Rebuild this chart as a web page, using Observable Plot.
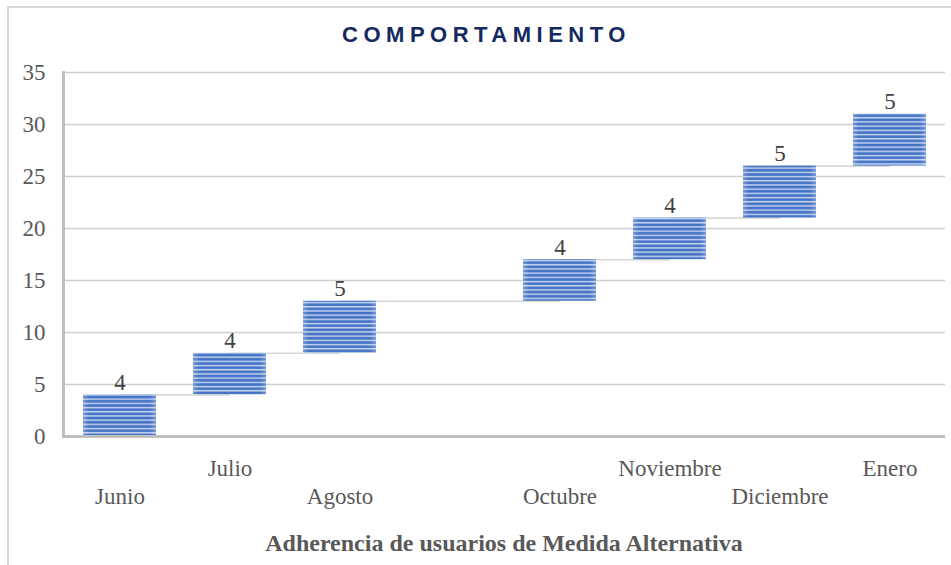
<!DOCTYPE html>
<html>
<head>
<meta charset="utf-8">
<script src="https://cdn.jsdelivr.net/npm/d3@7"></script>
<script src="https://cdn.jsdelivr.net/npm/@observablehq/plot@0.6"></script>
<style>
  body { margin: 0; background: #fff; overflow: hidden; }
  #outer { position: absolute; left: 7px; top: 6px; width: 1000px; height: 620px; border: 2px solid #d9d9d9; box-sizing: border-box; }
  #wrap { position: relative; width: 951px; }
  #title { box-sizing: border-box; width: 951px; height: 60px; padding-top: 23px; padding-left: 22px;
    font: bold 22px "Liberation Sans", Arial, sans-serif; letter-spacing: 5.5px; line-height: 24px;
    color: #14295f; text-align: center; }
  #chart svg { display: block; }
  #caption { box-sizing: border-box; width: 951px; height: 46px; padding-left: 57px;
    font: bold 24px "Liberation Serif", "Times New Roman", serif; line-height: 46px; color: #595959; text-align: center; }
</style>
</head>
<body>
<svg width="0" height="0" style="position:absolute">
  <defs>
    <linearGradient id="edge" x1="0" x2="1" y1="0" y2="0">
      <stop offset="0" stop-color="#ffffff" stop-opacity="0.25"></stop>
      <stop offset="0.08" stop-color="#ffffff" stop-opacity="0"></stop>
      <stop offset="0.92" stop-color="#ffffff" stop-opacity="0"></stop>
      <stop offset="1" stop-color="#ffffff" stop-opacity="0.25"></stop>
    </linearGradient>
    <pattern id="stripes" patternUnits="userSpaceOnUse" width="8" height="4.2">
      <rect x="0" y="0" width="8" height="4.2" fill="#4472c4"></rect>
      <rect x="0" y="2.4" width="8" height="1.5" fill="#c3d3f0"></rect>
    </pattern>
  </defs>
</svg>
<div id="outer"></div>
<div id="wrap">
  <div id="title">COMPORTAMIENTO</div>
  <div id="chart"></div>
  <div id="caption">Adherencia de usuarios de Medida Alternativa</div>
</div>
<script>
// Data
const months = ["Junio", "Julio", "Agosto", "Septiembre", "Octubre", "Noviembre", "Diciembre", "Enero"];
const monthLabels = ["Junio", "Julio", "Agosto", "", "Octubre", "Noviembre", "Diciembre", "Enero"];
const increments = [4, 4, 5, 0, 4, 4, 5, 5];
const yTicks = [0, 5, 10, 15, 20, 25, 30, 35];

// Build waterfall table
let acc = 0;
const rows = months.map((m, i) => {
  const start = acc;
  acc += increments[i];
  return { month: m, label: monthLabels[i], value: increments[i], start, end: acc, i };
});
const links = rows.slice(0, -1).map((r, i) => ({ from: r.month, to: rows[i + 1].month, level: r.end }));
const shown = rows.filter(d => d.value > 0);

const serif = "'Liberation Serif', 'Times New Roman', serif";

const chart = Plot.plot({
  width: 951,
  height: 460,
  marginTop: 12,
  marginBottom: 84,
  marginLeft: 63,
  marginRight: 6,
  style: { fontFamily: serif, fontSize: "23px", background: "transparent", color: "#595959" },
  x: { type: "band", domain: months, paddingInner: 0.34, paddingOuter: 0.17, axis: null },
  y: { domain: [0, 35], axis: null },
  marks: [
    Plot.ruleY(yTicks.filter(d => d > 0), { stroke: "#d0d0d0", strokeWidth: 1.6 }),
    Plot.link(links, { x1: "from", x2: "to", y1: "level", y2: "level", stroke: "#d9d9d9", strokeWidth: 1.6 }),
    Plot.barY(shown, { x: "month", y1: "start", y2: "end", fill: "url(#stripes)" }),
    Plot.barY(shown, { x: "month", y1: "start", y2: "end", fill: "url(#edge)" }),
    Plot.ruleY([0], { stroke: "#bfbfbf", strokeWidth: 3 }),
    Plot.frame({ anchor: "left", stroke: "#bfbfbf", strokeWidth: 3 }),
    Plot.axisY({ ticks: yTicks, tickSize: 0, tickPadding: 18, fontSize: 23, fill: "#595959" }),
    Plot.text(shown, { x: "month", y: "end", text: d => String(d.value), lineAnchor: "bottom", dy: -5, fontSize: 23, fill: "#404040" }),
    Plot.text(rows.filter(d => d.i % 2 === 0), { x: "month", text: "label", frameAnchor: "bottom", dy: 67, fontSize: 23, fill: "#595959" }),
    Plot.text(rows.filter(d => d.i % 2 === 1), { x: "month", text: "label", frameAnchor: "bottom", dy: 39, fontSize: 23, fill: "#595959" })
  ]
});
document.getElementById("chart").appendChild(chart);
</script>
</body>
</html>
